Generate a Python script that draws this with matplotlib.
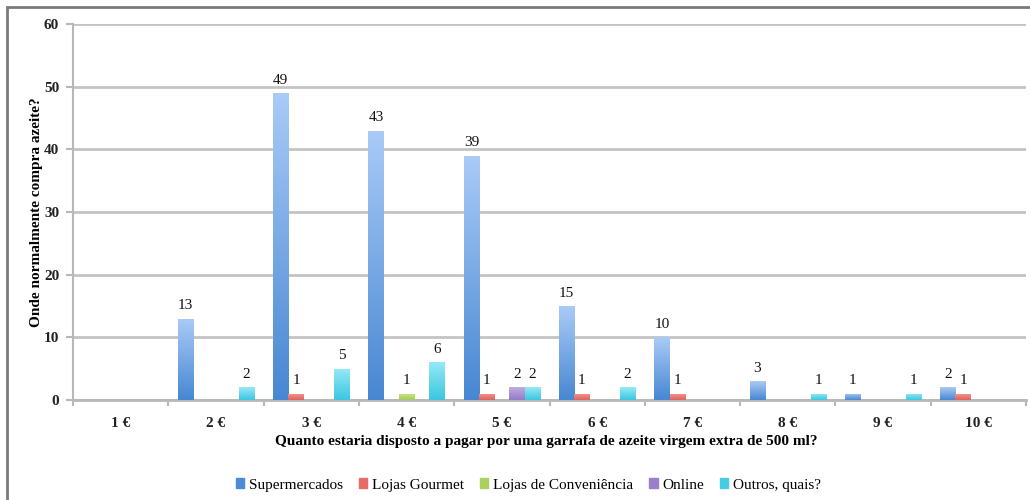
import numpy as np
import matplotlib
matplotlib.use("Agg")
import matplotlib.pyplot as plt
from matplotlib.colors import LinearSegmentedColormap
from matplotlib.patches import Rectangle

plt.rcParams['font.family'] = ['Liberation Serif', 'DejaVu Serif']

categories = ["1 €", "2 €", "3 €", "4 €", "5 €", "6 €", "7 €", "8 €", "9 €", "10 €"]
series_names = ["Supermercados", "Lojas Gourmet", "Lojas de Conveniência", "Online", "Outros, quais?"]
supermercados = [0, 13, 49, 43, 39, 15, 10, 3, 1, 2]
lojas_gourmet = [0, 0, 1, 0, 1, 1, 1, 0, 0, 1]
lojas_conveniencia = [0, 0, 0, 1, 0, 0, 0, 0, 0, 0]
online = [0, 0, 0, 0, 2, 0, 0, 0, 0, 0]
outros = [0, 2, 5, 6, 2, 2, 0, 1, 1, 0]
series_values = [supermercados, lojas_gourmet, lojas_conveniencia, online, outros]

# (top colour, bottom colour) for each series' vertical gradient
gradients = [
    ("#aacbf7", "#4787d2"),
    ("#f19a95", "#e0605c"),
    ("#cde78f", "#a3cc55"),
    ("#c0aee3", "#9479c6"),
    ("#95e9f7", "#3cc6e0"),
]
legend_colors = ["#4f8ad6", "#e66c67", "#a9d15e", "#9a80ca", "#45cbe4"]

fig = plt.figure(figsize=(10.3, 5.0), dpi=100)
ax = fig.add_axes([0.071, 0.2, 0.925, 0.752])

n_cat = len(categories)
n_ser = len(series_values)
x = np.arange(n_cat)
group_w = 0.8
bar_w = group_w / n_ser

grad = np.linspace(0, 1, 256).reshape(-1, 1)
for si, (vals, (top, bot)) in enumerate(zip(series_values, gradients)):
    cmap = LinearSegmentedColormap.from_list(f"g{si}", [bot, top])
    offset = -group_w / 2 + bar_w * si
    bars = ax.bar(x + offset, vals, width=bar_w, align="edge",
                  color="none", edgecolor="none", zorder=3)
    for b, v in zip(bars, vals):
        if v <= 0:
            continue
        x0, w, h = b.get_x(), b.get_width(), b.get_height()
        im = ax.imshow(grad, cmap=cmap, origin="lower", aspect="auto",
                       extent=(x0, x0 + w, 0, h), zorder=3, interpolation="bilinear")
        im.set_clip_path(b)
        ax.text(x0 + w / 2, h + 1.0, str(v), ha="center", va="bottom",
                fontsize=11, color="#111111", zorder=4)

ax.set_xlim(-0.5, n_cat - 0.5)
ax.set_ylim(0, 60)
ax.set_yticks(range(0, 61, 10))

ax.yaxis.grid(True, color="#c4c4c4", linewidth=2.0, zorder=0)
ax.set_axisbelow(True)
for side in ("top", "right"):
    ax.spines[side].set_visible(False)
ax.spines["left"].set_color("#b8b8b8")
ax.spines["left"].set_linewidth(1.5)
ax.spines["bottom"].set_color("#b8b8b8")
ax.spines["bottom"].set_linewidth(2.0)

ax.set_xticks(np.arange(-0.5, n_cat, 1.0))
ax.set_xticklabels([])
ax.set_xticks(x, minor=True)
ax.set_xticklabels(categories, minor=True, fontsize=11, fontweight="bold", color="#222222")
ax.tick_params(axis="x", which="major", length=4, color="#b8b8b8", width=1.5)
ax.tick_params(axis="x", which="minor", length=0, pad=12)
ax.tick_params(axis="y", length=5, color="#b8b8b8", width=1.5, labelsize=11, pad=5,
               labelcolor="#222222")
for t in ax.get_yticklabels():
    t.set_fontweight("bold")

ax.set_xlabel("Quanto estaria disposto a pagar por uma garrafa de azeite virgem extra de 500 ml?",
              fontsize=11, fontweight="bold")
ax.xaxis.set_label_coords(0.497, -0.092)
ax.set_ylabel("Onde normalmente compra azeite?", fontsize=11, fontweight="bold")
ax.yaxis.set_label_coords(-0.032, 0.5)

handles = [Rectangle((0, 0), 1, 1, color=c) for c in legend_colors]
fig.legend(handles, series_names, loc="center", bbox_to_anchor=(0.513, 0.03), ncol=5,
           frameon=False, fontsize=11, handlelength=0.55, handleheight=0.55,
           handletextpad=0.3, columnspacing=1.05)

# outer frame of the chart
fig.add_artist(Rectangle((0.007, -0.01), 1.2, 0.996, transform=fig.transFigure,
                         fill=False, edgecolor="#7a7a7a", linewidth=2.0))

fig.savefig("out.png", dpi=100, facecolor="white")
